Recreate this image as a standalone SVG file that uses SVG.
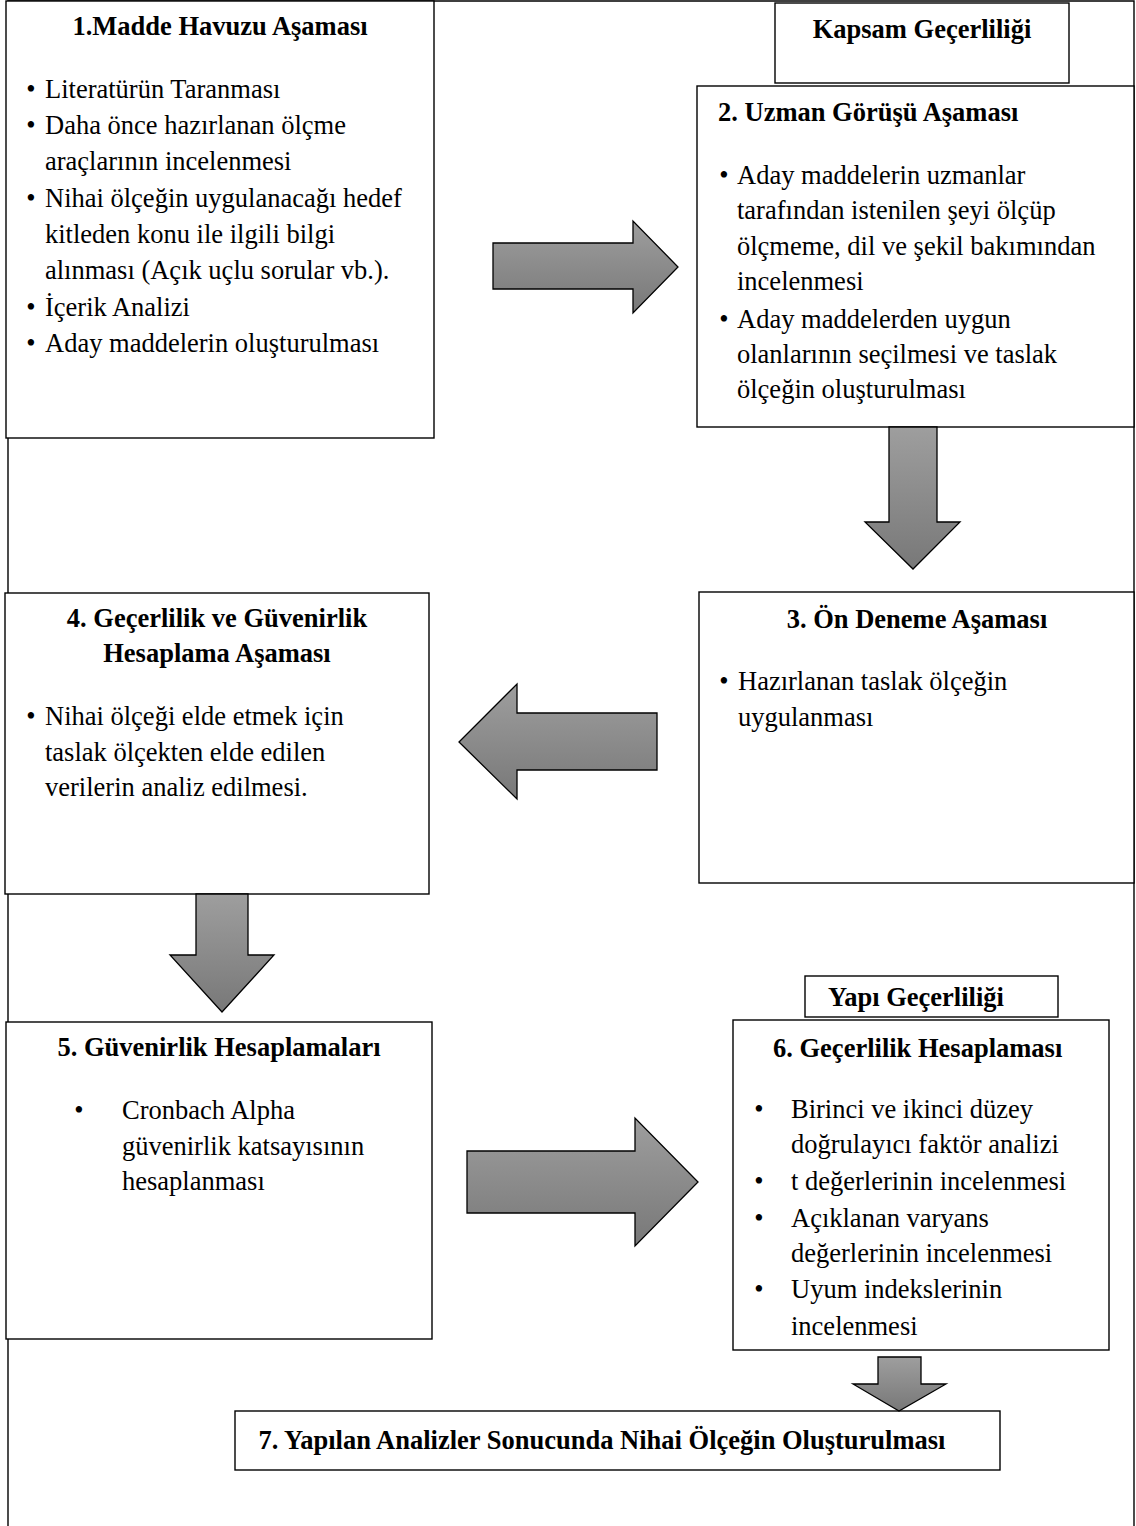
<svg xmlns="http://www.w3.org/2000/svg" width="1136" height="1526" viewBox="0 0 1136 1526">
<style>
.box{fill:#fff;stroke:#000;stroke-width:1.4}
.t{font-family:"Liberation Serif","Times New Roman",serif;font-size:26.5px;fill:#000}
.b{font-weight:bold}
.c{text-anchor:middle}
.arr{fill:url(#g);stroke:#000;stroke-width:1.3;stroke-linejoin:miter}
.frame{fill:none;stroke:#000;stroke-width:1.4}
</style>
<defs>
<linearGradient id="g" x1="0" y1="0" x2="0" y2="1">
<stop offset="0" stop-color="#9e9e9e"/>
<stop offset="1" stop-color="#787878"/>
</linearGradient>
</defs>
<rect width="1136" height="1526" fill="#fff"/>
<g id="frame">
<path class="frame" d="M8,1530 V1 H1134 V1530"/>
</g>
<g id="node1">
<rect class="box" x="6" y="1" width="428" height="437"/>
<text class="t b c" x="220" y="35">1.Madde Havuzu Aşaması</text>
<text class="t c" x="31" y="98">•</text><text class="t" x="45" y="98">Literatürün Taranması</text>
<text class="t c" x="31" y="134">•</text><text class="t" x="45" y="134">Daha önce hazırlanan ölçme</text>
<text class="t" x="45" y="170">araçlarının incelenmesi</text>
<text class="t c" x="31" y="207">•</text><text class="t" x="45" y="207">Nihai ölçeğin uygulanacağı hedef</text>
<text class="t" x="45" y="243">kitleden konu ile ilgili bilgi</text>
<text class="t" x="45" y="279">alınması (Açık uçlu sorular vb.).</text>
<text class="t c" x="31" y="316">•</text><text class="t" x="45" y="316">İçerik Analizi</text>
<text class="t c" x="31" y="352">•</text><text class="t" x="45" y="352">Aday maddelerin oluşturulması</text>
</g>
<g id="label-kapsam">
<rect class="box" x="775" y="3" width="294" height="80"/>
<text class="t b c" x="922" y="38">Kapsam Geçerliliği</text>
</g>
<g id="node2">
<rect class="box" x="697" y="86" width="437" height="341"/>
<text class="t b" x="718" y="121">2. Uzman Görüşü Aşaması</text>
<text class="t c" x="724" y="184">•</text><text class="t" x="737" y="184">Aday maddelerin uzmanlar</text>
<text class="t" x="737" y="219">tarafından istenilen şeyi ölçüp</text>
<text class="t" x="737" y="255">ölçmeme, dil ve şekil bakımından</text>
<text class="t" x="737" y="290">incelenmesi</text>
<text class="t c" x="724" y="328">•</text><text class="t" x="737" y="328">Aday maddelerden uygun</text>
<text class="t" x="737" y="363">olanlarının seçilmesi ve taslak</text>
<text class="t" x="737" y="398">ölçeğin oluşturulması</text>
</g>
<g id="node3">
<rect class="box" x="699" y="592" width="435" height="291"/>
<text class="t b c" x="917" y="628">3. Ön Deneme Aşaması</text>
<text class="t c" x="724" y="690">•</text><text class="t" x="738" y="690">Hazırlanan taslak ölçeğin</text>
<text class="t" x="738" y="726">uygulanması</text>
</g>
<g id="node4">
<rect class="box" x="5" y="593" width="424" height="301"/>
<text class="t b c" x="217" y="627">4. Geçerlilik ve Güvenirlik</text>
<text class="t b c" x="217" y="662">Hesaplama Aşaması</text>
<text class="t c" x="31" y="725">•</text><text class="t" x="45" y="725">Nihai ölçeği elde etmek için</text>
<text class="t" x="45" y="761">taslak ölçekten elde edilen</text>
<text class="t" x="45" y="796">verilerin analiz edilmesi.</text>
</g>
<g id="node5">
<rect class="box" x="6" y="1022" width="426" height="317"/>
<text class="t b c" x="219" y="1056">5. Güvenirlik Hesaplamaları</text>
<text class="t c" x="79" y="1119">•</text><text class="t" x="122" y="1119">Cronbach Alpha</text>
<text class="t" x="122" y="1155">güvenirlik katsayısının</text>
<text class="t" x="122" y="1190">hesaplanması</text>
</g>
<g id="label-yapi">
<rect class="box" x="805" y="976" width="253" height="41"/>
<text class="t b" x="828" y="1006">Yapı Geçerliliği</text>
</g>
<g id="node6">
<rect class="box" x="733" y="1020" width="376" height="330"/>
<text class="t b" x="773" y="1057">6. Geçerlilik Hesaplaması</text>
<text class="t c" x="759" y="1118">•</text><text class="t" x="791" y="1118">Birinci ve ikinci düzey</text>
<text class="t" x="791" y="1153">doğrulayıcı faktör analizi</text>
<text class="t c" x="759" y="1190">•</text><text class="t" x="791" y="1190">t değerlerinin incelenmesi</text>
<text class="t c" x="759" y="1227">•</text><text class="t" x="791" y="1227">Açıklanan varyans</text>
<text class="t" x="791" y="1262">değerlerinin incelenmesi</text>
<text class="t c" x="759" y="1298">•</text><text class="t" x="791" y="1298">Uyum indekslerinin</text>
<text class="t" x="791" y="1335">incelenmesi</text>
</g>
<g id="node7">
<rect class="box" x="235" y="1411" width="765" height="59"/>
<text class="t b c" x="602" y="1449">7. Yapılan Analizler Sonucunda Nihai Ölçeğin Oluşturulması</text>
</g>
<g id="connectors">
<path class="arr" d="M493,243 H633 V221 L678,267 L633,313 V289 H493 Z"/>
<path class="arr" d="M889,427 V522 H865 L913,569 L960,522 H937 V427 Z"/>
<path class="arr" d="M657,713 H517 V684 L459,742 L517,799 V770 H657 Z"/>
<path class="arr" d="M196,894 V955 H170 L222,1012 L274,955 H248 V894 Z"/>
<path class="arr" d="M467,1151 H635 V1118 L698,1182 L635,1246 V1213 H467 Z"/>
<path class="arr" d="M878,1357 V1384 H853 L899,1411 L946,1384 H921 V1357 Z"/>
</g>
</svg>
